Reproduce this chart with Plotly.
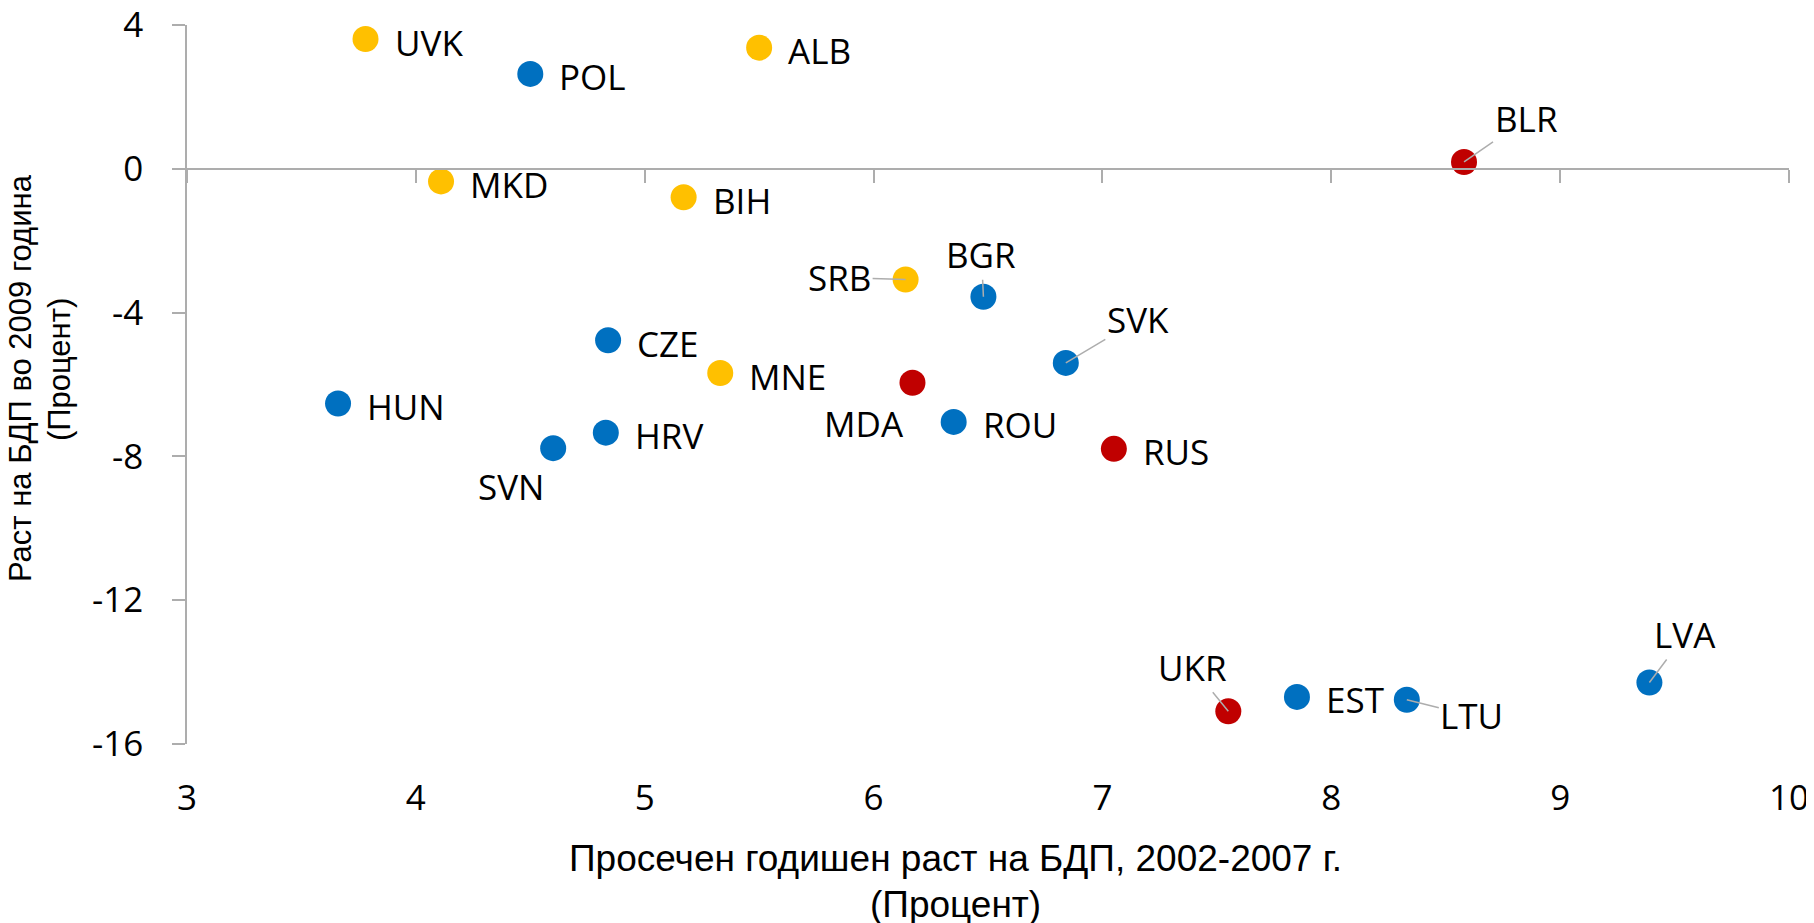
import plotly.graph_objects as go

# Podatoci (procitani od grafikonot)
zemji = ["UVK", "POL", "ALB", "MKD", "BIH", "BLR", "SRB", "BGR", "CZE", "SVK", "MNE",
         "MDA", "HUN", "ROU", "HRV", "SVN", "RUS", "UKR", "EST", "LTU", "LVA"]
rast_2002_2007 = [3.78, 4.50, 5.50, 4.11, 5.17, 8.58, 6.14, 6.48, 4.84, 6.84, 5.33,
                  6.17, 3.66, 6.35, 4.83, 4.60, 7.05, 7.55, 7.85, 8.33, 9.39]
rast_2009 = [3.61, 2.64, 3.37, -0.35, -0.79, 0.19, -3.08, -3.56, -4.77, -5.40, -5.68,
             -5.95, -6.53, -7.04, -7.34, -7.77, -7.79, -15.09, -14.69, -14.77, -14.29]
grupa = ["ZB", "EU", "ZB", "ZB", "ZB", "ZND", "ZB", "EU", "EU", "EU", "ZB",
         "ZND", "EU", "EU", "EU", "EU", "ZND", "ZND", "EU", "EU", "EU"]

x_tikovi = [3, 4, 5, 6, 7, 8, 9, 10]
y_tikovi = [-16, -12, -8, -4, 0, 4]
y_tik_tekst = ["-16", "-12", "-8", "-4", "0", "4"]

boi = {"ZB": "#FFC000", "EU": "#0070C0", "ZND": "#C00000"}

# pozicii na etiketite (pikseli od tockata)
so_linija = {"SRB": (-66, -2), "BGR": (-2, -42), "SVK": (72, -43), "BLR": (62, -43),
             "UKR": (-36, -44), "LTU": (65, 16), "LVA": (36, -48)}
dolu_levo = {"SVN": (-42, -38), "MDA": (-48, -41)}

sivo = "#ADADAD"
font_oznaki = dict(family="Open Sans", size=35, color="black")
font_naslov = "Liberation Sans"

fig = go.Figure()

for g in ["ZB", "EU", "ZND"]:
    idx = [i for i, v in enumerate(grupa) if v == g]
    fig.add_trace(go.Scatter(
        x=[rast_2002_2007[i] for i in idx],
        y=[rast_2009[i] for i in idx],
        mode="markers",
        marker=dict(size=26, color=boi[g], line=dict(width=0)),
        showlegend=False,
    ))

# prazna traga za oskata na y=0
fig.add_trace(go.Scatter(x=[], y=[], xaxis="x2", showlegend=False, hoverinfo="skip"))

annotations = []
for z, x, y in zip(zemji, rast_2002_2007, rast_2009):
    if z in so_linija:
        ax, ay = so_linija[z]
        annotations.append(dict(x=x, y=y, text=z, showarrow=True, arrowhead=0,
                                arrowwidth=1.5, arrowcolor=sivo, ax=ax, ay=ay,
                                font=font_oznaki))
    elif z in dolu_levo:
        dx, dy = dolu_levo[z]
        annotations.append(dict(x=x, y=y, text=z, showarrow=False, xanchor="center",
                                yanchor="middle", xshift=dx, yshift=dy, font=font_oznaki))
    else:
        annotations.append(dict(x=x, y=y, text=z, showarrow=False, xanchor="left",
                                yanchor="middle", xshift=27, yshift=-3, font=font_oznaki))

# naslovi na oskite
annotations += [
    dict(xref="paper", yref="paper", x=0.48, y=0, yshift=-114, text="Просечен годишен раст на БДП, 2002-2007 г.",
         showarrow=False, xanchor="center", yanchor="middle",
         font=dict(family=font_naslov, size=37, color="black")),
    dict(xref="paper", yref="paper", x=0.48, y=0, yshift=-160, text="(Процент)",
         showarrow=False, xanchor="center", yanchor="middle",
         font=dict(family=font_naslov, size=37, color="black")),
    dict(xref="paper", yref="paper", x=0, y=0.509, xshift=-167, text="Раст на БДП во 2009 година",
         showarrow=False, textangle=-90, xanchor="center", yanchor="middle",
         font=dict(family=font_naslov, size=31, color="black")),
    dict(xref="paper", yref="paper", x=0, y=0.52, xshift=-128, text="(Процент)",
         showarrow=False, textangle=-90, xanchor="center", yanchor="middle",
         font=dict(family=font_naslov, size=31, color="black")),
]

fig.update_layout(
    width=1806, height=915,
    margin=dict(l=179, r=25, t=17, b=179),
    plot_bgcolor="white", paper_bgcolor="white",
    annotations=annotations,
    xaxis=dict(range=[3, 10], tickvals=x_tikovi, showgrid=False, zeroline=False, showline=False,
               ticks="", ticklabelstandoff=30, tickfont=font_oznaki, automargin=False,
               ticklabeloverflow="allow"),
    xaxis2=dict(range=[3, 10], tickvals=x_tikovi, overlaying="x", anchor="free", position=0.8,
                showgrid=False, zeroline=False, showline=True, linecolor=sivo, linewidth=1.5,
                ticks="outside", ticklen=13, tickcolor=sivo, tickwidth=1.5,
                showticklabels=False, automargin=False),
    yaxis=dict(range=[-16, 4], tickvals=y_tikovi, ticktext=y_tik_tekst, showgrid=False,
               zeroline=False, showline=True, linecolor=sivo, linewidth=1.5, ticks="outside",
               ticklen=13, tickcolor=sivo, tickwidth=1.5, ticklabelstandoff=22,
               tickfont=font_oznaki, automargin=False, ticklabeloverflow="allow"),
)

fig.write_html("out.html")
